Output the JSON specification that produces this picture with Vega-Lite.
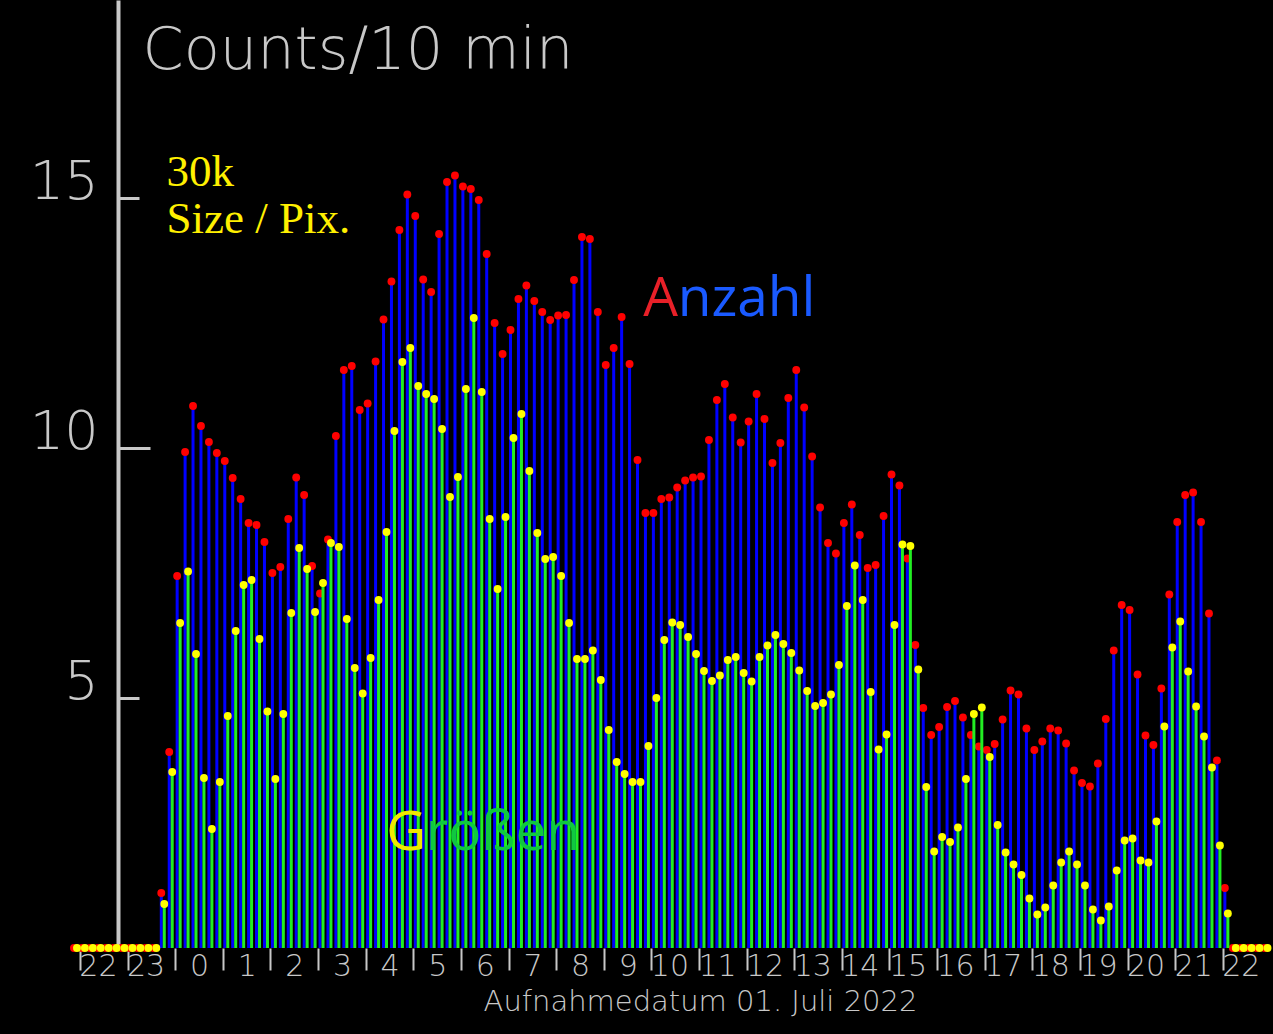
{
  "$schema": "https://vega.github.io/schema/vega-lite/v6.json",
  "width": 1273,
  "height": 948,
  "autosize": {"type": "none"},
  "padding": {"left": 0, "top": 0, "right": 0, "bottom": 86},
  "background": "#000000",
  "config": {"view": {"stroke": null}, "font": "DejaVu Sans"},
  "datasets": {
    "counts": [
      {"t": -130, "n": 0, "g": 0}, {"t": -120, "n": 0, "g": 0}, {"t": -110, "n": 0, "g": 0}, {"t": -100, "n": 0, "g": 0},
      {"t": -90, "n": 0, "g": 0}, {"t": -80, "n": 0, "g": 0}, {"t": -70, "n": 0, "g": 0}, {"t": -60, "n": 0, "g": 0},
      {"t": -50, "n": 0, "g": 0}, {"t": -40, "n": 0, "g": 0}, {"t": -30, "n": 0, "g": 0},
      {"t": -20, "n": 1.10, "g": 0.88}, {"t": -10, "n": 3.92, "g": 3.52}, {"t": 0, "n": 7.44, "g": 6.50},
      {"t": 10, "n": 9.92, "g": 7.53}, {"t": 20, "n": 10.84, "g": 5.88}, {"t": 30, "n": 10.44, "g": 3.40},
      {"t": 40, "n": 10.12, "g": 2.38}, {"t": 50, "n": 9.90, "g": 3.32}, {"t": 60, "n": 9.74, "g": 4.64},
      {"t": 70, "n": 9.40, "g": 6.34}, {"t": 80, "n": 8.98, "g": 7.26}, {"t": 90, "n": 8.50, "g": 7.36},
      {"t": 100, "n": 8.46, "g": 6.18}, {"t": 110, "n": 8.12, "g": 4.73}, {"t": 120, "n": 7.50, "g": 3.38},
      {"t": 130, "n": 7.62, "g": 4.68}, {"t": 140, "n": 8.58, "g": 6.70}, {"t": 150, "n": 9.41, "g": 8.00},
      {"t": 160, "n": 9.06, "g": 7.58}, {"t": 170, "n": 7.64, "g": 6.72}, {"t": 180, "n": 7.09, "g": 7.30},
      {"t": 190, "n": 8.17, "g": 8.10}, {"t": 200, "n": 10.24, "g": 8.02}, {"t": 210, "n": 11.56, "g": 6.58},
      {"t": 220, "n": 11.64, "g": 5.60}, {"t": 230, "n": 10.76, "g": 5.09}, {"t": 240, "n": 10.89, "g": 5.80},
      {"t": 250, "n": 11.73, "g": 6.96}, {"t": 260, "n": 12.57, "g": 8.32}, {"t": 270, "n": 13.33, "g": 10.34},
      {"t": 280, "n": 14.36, "g": 11.72}, {"t": 290, "n": 15.07, "g": 12.00}, {"t": 300, "n": 14.64, "g": 11.24},
      {"t": 310, "n": 13.37, "g": 11.08}, {"t": 320, "n": 13.12, "g": 10.98}, {"t": 330, "n": 14.28, "g": 10.38},
      {"t": 340, "n": 15.32, "g": 9.02}, {"t": 350, "n": 15.45, "g": 9.42}, {"t": 360, "n": 15.23, "g": 11.18},
      {"t": 370, "n": 15.18, "g": 12.60}, {"t": 380, "n": 14.96, "g": 11.12}, {"t": 390, "n": 13.88, "g": 8.58},
      {"t": 400, "n": 12.50, "g": 7.18}, {"t": 410, "n": 11.88, "g": 8.62}, {"t": 420, "n": 12.36, "g": 10.20},
      {"t": 430, "n": 12.98, "g": 10.68}, {"t": 440, "n": 13.25, "g": 9.54}, {"t": 450, "n": 12.94, "g": 8.30},
      {"t": 460, "n": 12.72, "g": 7.78}, {"t": 470, "n": 12.56, "g": 7.82}, {"t": 480, "n": 12.65, "g": 7.44},
      {"t": 490, "n": 12.66, "g": 6.50}, {"t": 500, "n": 13.36, "g": 5.78}, {"t": 510, "n": 14.22, "g": 5.78},
      {"t": 520, "n": 14.18, "g": 5.95}, {"t": 530, "n": 12.72, "g": 5.36}, {"t": 540, "n": 11.66, "g": 4.36},
      {"t": 550, "n": 12.00, "g": 3.72}, {"t": 560, "n": 12.62, "g": 3.48}, {"t": 570, "n": 11.68, "g": 3.32},
      {"t": 580, "n": 9.76, "g": 3.32}, {"t": 590, "n": 8.70, "g": 4.04}, {"t": 600, "n": 8.70, "g": 5.00},
      {"t": 610, "n": 8.98, "g": 6.16}, {"t": 620, "n": 9.01, "g": 6.51}, {"t": 630, "n": 9.21, "g": 6.46},
      {"t": 640, "n": 9.35, "g": 6.22}, {"t": 650, "n": 9.41, "g": 5.88}, {"t": 660, "n": 9.43, "g": 5.54},
      {"t": 670, "n": 10.16, "g": 5.34}, {"t": 680, "n": 10.96, "g": 5.45}, {"t": 690, "n": 11.28, "g": 5.76},
      {"t": 700, "n": 10.61, "g": 5.82}, {"t": 710, "n": 10.11, "g": 5.50}, {"t": 720, "n": 10.53, "g": 5.33},
      {"t": 730, "n": 11.08, "g": 5.82}, {"t": 740, "n": 10.58, "g": 6.05}, {"t": 750, "n": 9.70, "g": 6.26},
      {"t": 760, "n": 10.10, "g": 6.08}, {"t": 770, "n": 11.00, "g": 5.90}, {"t": 780, "n": 11.56, "g": 5.55},
      {"t": 790, "n": 10.81, "g": 5.14}, {"t": 800, "n": 9.83, "g": 4.84}, {"t": 810, "n": 8.81, "g": 4.90},
      {"t": 820, "n": 8.10, "g": 5.07}, {"t": 830, "n": 7.89, "g": 5.66}, {"t": 840, "n": 8.50, "g": 6.84},
      {"t": 850, "n": 8.87, "g": 7.65}, {"t": 860, "n": 8.26, "g": 6.96}, {"t": 870, "n": 7.60, "g": 5.12},
      {"t": 880, "n": 7.66, "g": 3.97}, {"t": 890, "n": 8.64, "g": 4.27}, {"t": 900, "n": 9.47, "g": 6.46},
      {"t": 910, "n": 9.25, "g": 8.07}, {"t": 920, "n": 7.79, "g": 8.04}, {"t": 930, "n": 6.06, "g": 5.57},
      {"t": 940, "n": 4.80, "g": 3.22}, {"t": 950, "n": 4.26, "g": 1.93}, {"t": 960, "n": 4.42, "g": 2.22},
      {"t": 970, "n": 4.82, "g": 2.12}, {"t": 980, "n": 4.94, "g": 2.41}, {"t": 990, "n": 4.61, "g": 3.38},
      {"t": 1000, "n": 4.26, "g": 4.68}, {"t": 1010, "n": 4.03, "g": 4.81}, {"t": 1020, "n": 3.96, "g": 3.82},
      {"t": 1030, "n": 4.08, "g": 2.46}, {"t": 1040, "n": 4.57, "g": 1.91}, {"t": 1050, "n": 5.15, "g": 1.67},
      {"t": 1060, "n": 5.07, "g": 1.46}, {"t": 1070, "n": 4.39, "g": 0.99}, {"t": 1080, "n": 3.96, "g": 0.67},
      {"t": 1090, "n": 4.13, "g": 0.81}, {"t": 1100, "n": 4.39, "g": 1.25}, {"t": 1110, "n": 4.35, "g": 1.71},
      {"t": 1120, "n": 4.09, "g": 1.93}, {"t": 1130, "n": 3.55, "g": 1.67}, {"t": 1140, "n": 3.30, "g": 1.25},
      {"t": 1150, "n": 3.23, "g": 0.77}, {"t": 1160, "n": 3.69, "g": 0.55}, {"t": 1170, "n": 4.58, "g": 0.83},
      {"t": 1180, "n": 5.95, "g": 1.55}, {"t": 1190, "n": 6.86, "g": 2.15}, {"t": 1200, "n": 6.76, "g": 2.19},
      {"t": 1210, "n": 5.47, "g": 1.75}, {"t": 1220, "n": 4.25, "g": 1.71}, {"t": 1230, "n": 4.06, "g": 2.53},
      {"t": 1240, "n": 5.19, "g": 4.43}, {"t": 1250, "n": 7.07, "g": 6.01}, {"t": 1260, "n": 8.52, "g": 6.53},
      {"t": 1270, "n": 9.06, "g": 5.53}, {"t": 1280, "n": 9.11, "g": 4.83}, {"t": 1290, "n": 8.52, "g": 4.23},
      {"t": 1300, "n": 6.69, "g": 3.61}, {"t": 1310, "n": 3.75, "g": 2.05}, {"t": 1320, "n": 1.20, "g": 0.69},
      {"t": 1330, "n": 0, "g": 0}, {"t": 1340, "n": 0, "g": 0}, {"t": 1350, "n": 0, "g": 0},
      {"t": 1360, "n": 0, "g": 0}, {"t": 1370, "n": 0, "g": 0}
    ]
  },
  "layer": [
    {
      "data": {"name": "counts"},
      "mark": {"type": "bar", "color": "#0000ff", "width": 3, "xOffset": 2},
      "encoding": {
        "x": {
          "field": "t", "type": "quantitative",
          "scale": {"domain": [-214.375, 1376.875], "nice": false, "zero": false},
          "axis": {
            "values": [-120, -60, 0, 60, 120, 180, 240, 300, 360, 420, 480, 540, 600, 660, 720, 780, 840, 900, 960, 1020, 1080, 1140, 1200, 1260, 1320],
            "labelExpr": "'' + ((datum.value / 60 + 48) % 24)",
            "domain": false, "grid": false,
            "tickColor": "#c8c8c8", "tickWidth": 2, "tickSize": 22,
            "labelColor": "#c8c8c8", "labelFont": "DejaVu Sans", "labelFontWeight": 200, "labelFontSize": 30,
            "labelAlign": "center", "labelBaseline": "alphabetic", "labelPadding": 5,
            "labelOffset": {"condition": {"test": "((datum.value / 60 + 48) % 24) >= 10", "value": 18}, "value": 24},
            "labelFlush": false, "labelOverlap": false,
            "title": "Aufnahmedatum 01. Juli 2022",
            "titleColor": "#c8c8c8", "titleFont": "DejaVu Sans", "titleFontWeight": 200, "titleFontSize": 29,
            "titleAlign": "center", "titleBaseline": "alphabetic", "titleX": 700, "titleY": 62
          }
        },
        "y": {
          "field": "n", "type": "quantitative",
          "scale": {"domain": [0, 18.96], "nice": false},
          "axis": {
            "values": [5, 10, 15],
            "offset": -118,
            "grid": false,
            "domainColor": "#c8c8c8", "domainWidth": 4,
            "tickColor": "#c8c8c8", "tickWidth": 3,
            "tickSize": {"condition": {"test": "datum.value == 10", "value": -32}, "value": -21},
            "labelPadding": {"condition": {"test": "datum.value == 10", "value": 52}, "value": 41},
            "labelColor": "#c8c8c8", "labelFont": "DejaVu Sans", "labelFontWeight": 200, "labelFontSize": 54,
            "labelAlign": "right", "labelBaseline": "alphabetic",
            "title": "Counts/10 min",
            "titleColor": "#c8c8c8", "titleFont": "DejaVu Sans", "titleFontWeight": 200, "titleFontSize": 59,
            "titleAngle": 0, "titleAlign": "left", "titleBaseline": "alphabetic", "titleX": 24, "titleY": 68
          }
        }
      }
    },
    {
      "data": {"name": "counts"},
      "mark": {"type": "circle", "color": "#ff0000", "size": 62, "opacity": 1, "xOffset": 2},
      "encoding": {
        "x": {"field": "t", "type": "quantitative"},
        "y": {"field": "n", "type": "quantitative"}
      }
    },
    {
      "data": {"name": "counts"},
      "mark": {"type": "bar", "color": "#22ee22", "width": 3, "xOffset": 5},
      "encoding": {
        "x": {"field": "t", "type": "quantitative"},
        "y": {"field": "g", "type": "quantitative"}
      }
    },
    {
      "data": {"name": "counts"},
      "mark": {"type": "circle", "color": "#ffff00", "size": 62, "opacity": 1, "xOffset": 5},
      "encoding": {
        "x": {"field": "t", "type": "quantitative"},
        "y": {"field": "g", "type": "quantitative"}
      }
    },
    {
      "data": {"values": [{"label": "30k"}]},
      "mark": {"type": "text", "align": "left", "baseline": "alphabetic", "font": "Liberation Serif", "fontSize": 45, "color": "#fff000"},
      "encoding": {"x": {"datum": -11}, "y": {"datum": 15.24}, "text": {"field": "label"}}
    },
    {
      "data": {"values": [{"label": "Size / Pix."}]},
      "mark": {"type": "text", "align": "left", "baseline": "alphabetic", "font": "Liberation Serif", "fontSize": 45, "color": "#fff000"},
      "encoding": {"x": {"datum": -11}, "y": {"datum": 14.3}, "text": {"field": "label"}}
    },
    {
      "data": {"values": [{"label": "A"}]},
      "mark": {"type": "text", "align": "left", "baseline": "alphabetic", "font": "Open Sans", "fontSize": 55, "color": "#e82028"},
      "encoding": {"x": {"datum": 589.6}, "y": {"datum": 12.64}, "text": {"field": "label"}}
    },
    {
      "data": {"values": [{"label": "nzahl"}]},
      "mark": {"type": "text", "align": "left", "baseline": "alphabetic", "font": "Open Sans", "fontSize": 55, "color": "#1a5aff"},
      "encoding": {"x": {"datum": 633.1}, "y": {"datum": 12.64}, "text": {"field": "label"}}
    },
    {
      "data": {"values": [{"label": "G"}]},
      "mark": {"type": "text", "align": "left", "baseline": "alphabetic", "font": "Open Sans", "fontSize": 55, "color": "#f0e800"},
      "encoding": {"x": {"datum": 265.9}, "y": {"datum": 1.96}, "text": {"field": "label"}}
    },
    {
      "data": {"values": [{"label": "rößen"}]},
      "mark": {"type": "text", "align": "left", "baseline": "alphabetic", "font": "Open Sans", "fontSize": 55, "color": "#10c840"},
      "encoding": {"x": {"datum": 315.8}, "y": {"datum": 1.96}, "text": {"field": "label"}}
    }
  ]
}
